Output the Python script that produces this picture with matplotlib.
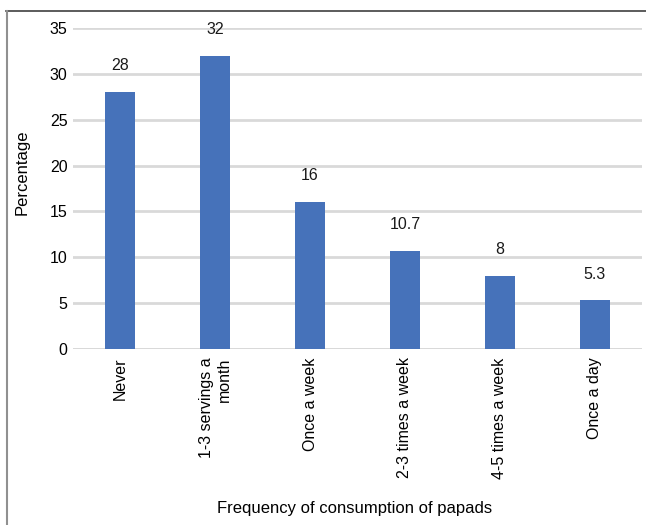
import matplotlib
matplotlib.use("Agg")
import matplotlib.pyplot as plt
from matplotlib.lines import Line2D

categories = ["Never", "1-3 servings a\nmonth", "Once a week", "2-3 times a week",
              "4-5 times a week", "Once a day"]
values = [28, 32, 16, 10.7, 8, 5.3]
value_labels = ["28", "32", "16", "10.7", "8", "5.3"]
yticks = [0, 5, 10, 15, 20, 25, 30, 35]

plt.rcParams['font.family'] = ['Liberation Sans', 'DejaVu Sans']

fig = plt.figure(figsize=(6.46, 5.25), dpi=100)
ax = fig.add_axes([73/646, 1-349/525, (642-73)/646, (349-28)/525])

x = list(range(len(categories)))
ax.bar(x, values, width=0.315, color="#4672BA", zorder=3)
for xi, v, lab in zip(x, values, value_labels):
    ax.annotate(lab, (xi, v), xytext=(0, 19), textcoords="offset points",
                ha="center", va="center", fontsize=11.5, color="#1a1a1a")

ax.set_xlim(-0.5, len(categories)-0.5)
ax.set_ylim(0, 35)
ax.set_yticks(yticks)
ax.set_yticklabels([str(t) for t in yticks], fontsize=11.5)
ax.yaxis.grid(True, color="#d9d9d9", linewidth=2, zorder=0)
ax.tick_params(axis="y", length=0, pad=4)
ax.set_xticks(x)
ax.set_xticklabels(categories, rotation=90, fontsize=11.5, ha="center", va="top",
                   multialignment="right")
ax.tick_params(axis="x", length=0, pad=6)
for s in ax.spines.values():
    s.set_visible(False)
ax.axhline(0, color="#d9d9d9", linewidth=2, zorder=1)

fig.text(219/646 + (491-219)/646/2, 1-508/525, "Frequency of consumption of papads",
         ha="center", va="center", fontsize=12)
fig.text(22/646, 1-172/525, "Percentage", rotation=90, ha="center", va="center", fontsize=12)

# frame
fig.add_artist(Line2D([6/646, 1], [1-10.5/525, 1-10.5/525], color="#404040", linewidth=1.2,
                      transform=fig.transFigure))
fig.add_artist(Line2D([6.5/646, 6.5/646], [0, 1-10.5/525], color="#909090", linewidth=1.5,
                      transform=fig.transFigure))

fig.savefig("out.png", dpi=100)
